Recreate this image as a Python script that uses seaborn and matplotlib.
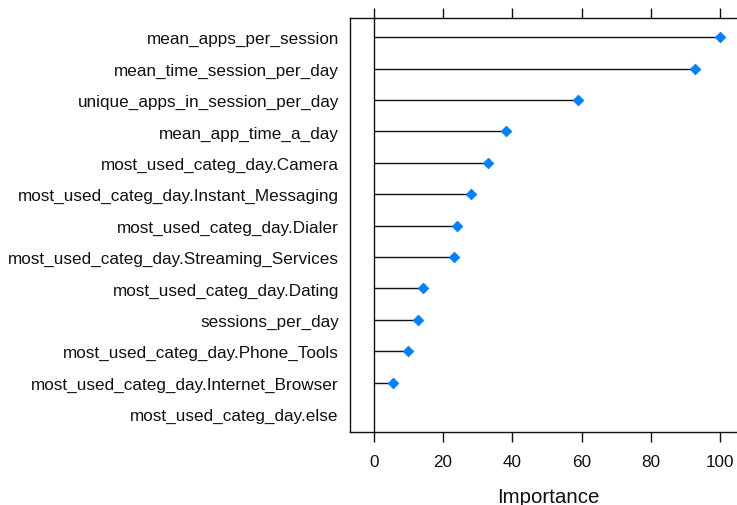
import matplotlib
matplotlib.use("Agg")
import matplotlib.pyplot as plt
import seaborn as sns
import numpy as np
import pandas as pd

features = [
    "mean_apps_per_session",
    "mean_time_session_per_day",
    "unique_apps_in_session_per_day",
    "mean_app_time_a_day",
    "most_used_categ_day.Camera",
    "most_used_categ_day.Instant_Messaging",
    "most_used_categ_day.Dialer",
    "most_used_categ_day.Streaming_Services",
    "most_used_categ_day.Dating",
    "sessions_per_day",
    "most_used_categ_day.Phone_Tools",
    "most_used_categ_day.Internet_Browser",
    "most_used_categ_day.else",
]
importance = [100.0, 92.7, 59.1, 38.2, 32.9, 28.0, 24.1, 23.1, 14.2, 12.7, 10.0, 5.5, 0.0]
x_ticks = [0, 20, 40, 60, 80, 100]

sns.set_style("white")
plt.rcParams["font.family"] = ["Liberation Sans", "DejaVu Sans"]

df = pd.DataFrame({"feature": features, "importance": importance})
df["pos"] = np.arange(len(df))

fig = plt.figure(figsize=(7.37, 5.06), dpi=100)
ax = fig.add_axes([350 / 737, 1 - 433 / 506, 396 / 737, (433 - 19) / 506])

# stems from zero to each importance value
ax.hlines(df["pos"], 0, df["importance"], color="#111111", linewidth=1.0, zorder=2)
ax.axvline(0, color="#111111", linewidth=1.0, zorder=2)

nonzero = df[df["importance"] > 0]
sns.scatterplot(data=nonzero, x="importance", y="pos", ax=ax, marker="D",
                s=30, color="#0080FF", edgecolor="#0080FF", linewidth=0.5, zorder=3)

ax.set_xlim(-6.85, 107.5)
ax.set_ylim(len(df) - 1 + 0.57, -0.61)
ax.set_yticks(df["pos"])
ax.set_yticklabels(df["feature"], fontsize=12.3, color="#111111")
ax.set_xticks(x_ticks)
ax.set_xticklabels([str(t) for t in x_ticks], fontsize=12.3, color="#111111")
ax.tick_params(axis="y", length=0, pad=8)
ax.tick_params(axis="x", direction="out", length=7, width=1.0, color="#111111",
               top=True, bottom=True, labeltop=False, pad=9)
ax.set_xlabel("Importance", fontsize=14.8, color="#111111", labelpad=13)
ax.set_ylabel("")
ax.grid(False)
for sp in ax.spines.values():
    sp.set_color("#111111")
    sp.set_linewidth(1.0)

fig.savefig("out.png", dpi=100, facecolor="white")
